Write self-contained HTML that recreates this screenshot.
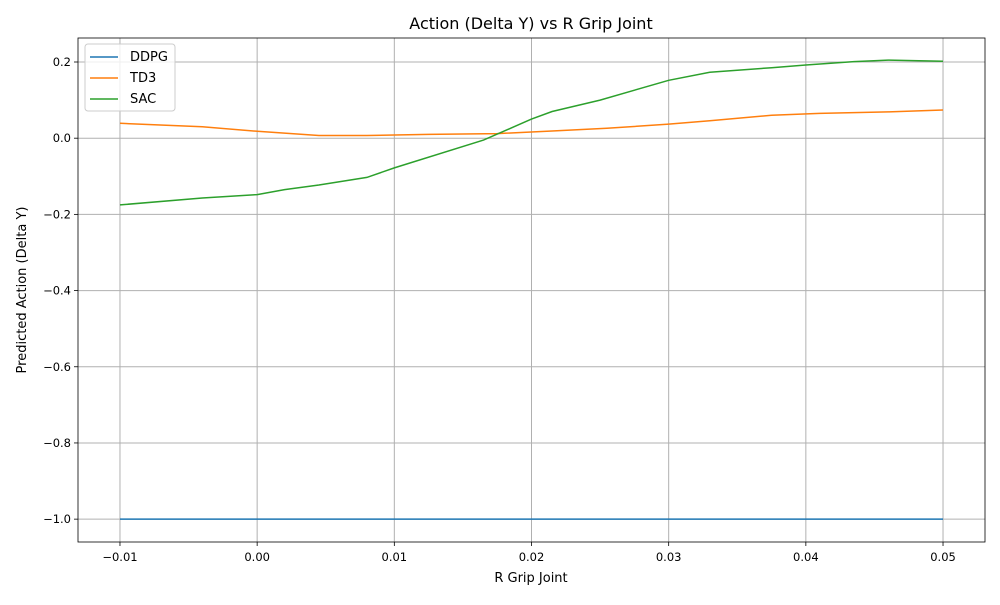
<!DOCTYPE html>
<html><head><meta charset="utf-8"><style>
body{margin:0;background:#fff;font-family:"Liberation Sans","DejaVu Sans",sans-serif}
svg text{font-family:"DejaVu Sans","Liberation Sans",sans-serif}
</style></head><body>
<svg id="chart" width="1000" height="600" xmlns="http://www.w3.org/2000/svg">
<rect width="1000" height="600" fill="#fff"/>
<g id="grid"></g><g id="series"></g><g id="axes"></g>
<text x="531" y="29" text-anchor="middle" font-size="16">Action (Delta Y) vs R Grip Joint</text>
<text x="531" y="582" text-anchor="middle" font-size="13">R Grip Joint</text>
<text transform="translate(26,290) rotate(-90)" text-anchor="middle" font-size="13">Predicted Action (Delta Y)</text>
<g>
<rect x="85" y="44" width="90" height="67" rx="3" fill="#fff" fill-opacity="0.8" stroke="#ccc"/>
<line x1="90" y1="57" x2="118" y2="57" stroke="#1f77b4" stroke-width="1.5"/><text x="130" y="61" font-size="13">DDPG</text>
<line x1="90" y1="78" x2="118" y2="78" stroke="#ff7f0e" stroke-width="1.5"/><text x="130" y="82" font-size="13">TD3</text>
<line x1="90" y1="99" x2="118" y2="99" stroke="#2ca02c" stroke-width="1.5"/><text x="130" y="103" font-size="13">SAC</text>
</g>
</svg>
<script>
const xTicks=[-0.01,0,0.01,0.02,0.03,0.04,0.05];
const xTickLabels=["−0.01","0.00","0.01","0.02","0.03","0.04","0.05"];
const yTicks=[0.2,0,-0.2,-0.4,-0.6,-0.8,-1.0];
const yTickLabels=["0.2","0.0","−0.2","−0.4","−0.6","−0.8","−1.0"];
const ddpgX=[-0.01,0.05];
const ddpgY=[-1.0,-1.0];
const td3X=[-0.01,-0.004,0,0.0045,0.008,0.0125,0.0175,0.0215,0.0255,0.03,0.033,0.0375,0.041,0.046,0.05];
const td3Y=[0.039,0.030,0.018,0.007,0.007,0.010,0.012,0.019,0.026,0.037,0.046,0.060,0.065,0.069,0.074];
const sacX=[-0.01,-0.004,0,0.002,0.0045,0.008,0.01,0.0165,0.02,0.0215,0.025,0.03,0.033,0.0375,0.04,0.0435,0.046,0.05];
const sacY=[-0.175,-0.157,-0.148,-0.135,-0.123,-0.103,-0.078,-0.005,0.05,0.07,0.10,0.152,0.173,0.185,0.192,0.201,0.205,0.202];
const L=78,R=985,T=38,B=542;
const x0=-0.01306,x1=0.05306,y0=-1.060,y1=0.263;
const sx=v=>L+(v-x0)/(x1-x0)*(R-L);
const sy=v=>B-(v-y0)/(y1-y0)*(B-T);
const NS="http://www.w3.org/2000/svg";
function mk(tag,attrs,parent){const e=document.createElementNS(NS,tag);for(const k in attrs)e.setAttribute(k,attrs[k]);parent.appendChild(e);return e;}
const grid=document.getElementById('grid'),axes=document.getElementById('axes'),series=document.getElementById('series');
xTicks.forEach((t,i)=>{const x=sx(t);
 const g=mk('line',{x1:x,x2:x,y1:T,y2:B,stroke:'#b0b0b0','stroke-width':1},grid);
 
 mk('line',{x1:x,x2:x,y1:B,y2:B+4,stroke:'#000','stroke-width':0.8},axes);
 const tx=mk('text',{x:x,y:B+19,'text-anchor':'middle','font-size':11.5},axes);tx.textContent=xTickLabels[i];
 });
yTicks.forEach((t,i)=>{const y=sy(t);
 const g=mk('line',{x1:L,x2:R,y1:y,y2:y,stroke:'#b0b0b0','stroke-width':1},grid);
 
 mk('line',{x1:L-4,x2:L,y1:y,y2:y,stroke:'#000','stroke-width':0.8},axes);
 const tx=mk('text',{x:L-7,y:y+4,'text-anchor':'end','font-size':11.5},axes);tx.textContent=yTickLabels[i];
 });
const fr=mk('rect',{x:L,y:T,width:R-L,height:B-T,fill:'none',stroke:'#000','stroke-width':0.8},axes);

function line(xs,ys,c,name){const d=xs.map((v,i)=>(i?'L':'M')+sx(v).toFixed(1)+','+sy(ys[i]).toFixed(1)).join('');
 const p=mk('path',{d:d,fill:'none',stroke:c,'stroke-width':1.5},series);
 }
line(ddpgX,ddpgY,'#1f77b4','ddpg-line');
line(td3X,td3Y,'#ff7f0e','td3-line');
line(sacX,sacY,'#2ca02c','sac-line');
</script>
</body></html>
